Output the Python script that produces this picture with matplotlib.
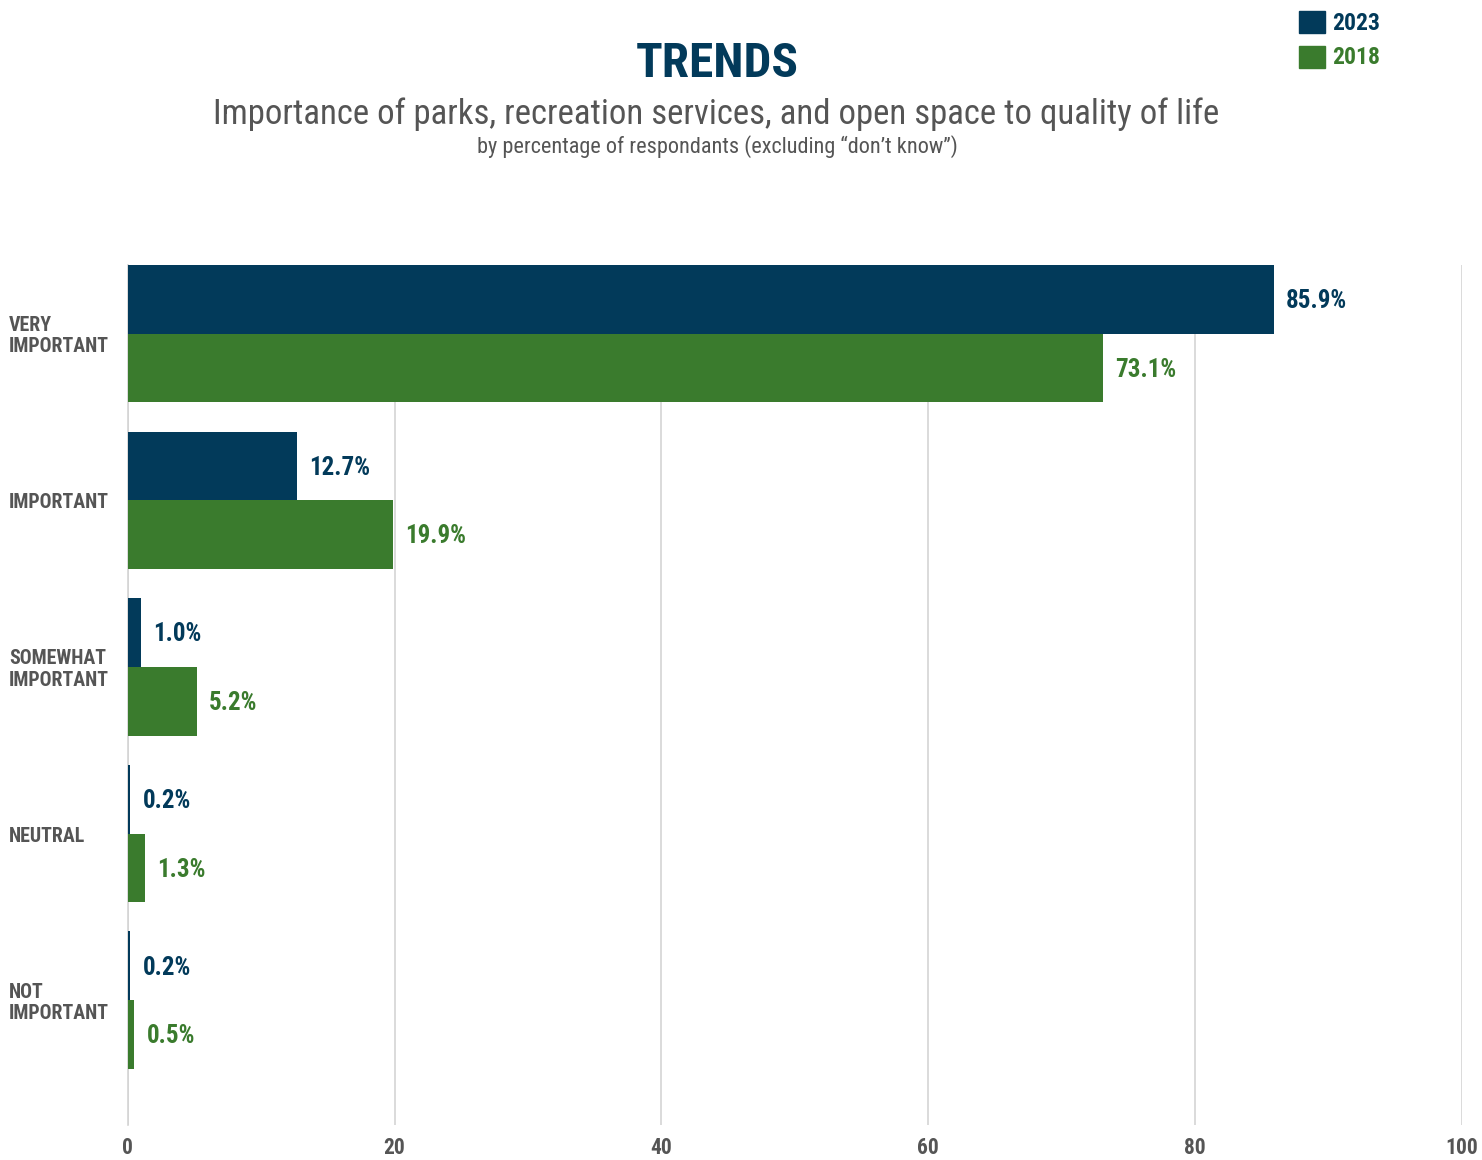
import numpy as np
import matplotlib
matplotlib.use("Agg")
import matplotlib.pyplot as plt

plt.rcParams['font.family'] = ['Roboto Condensed', 'DejaVu Sans']

categories = ['VERY\nIMPORTANT', 'IMPORTANT', 'SOMEWHAT\nIMPORTANT', 'NEUTRAL', 'NOT\nIMPORTANT']
vals_2023 = [85.9, 12.7, 1.0, 0.2, 0.2]
vals_2018 = [73.1, 19.9, 5.2, 1.3, 0.5]
ticks = [0, 20, 40, 60, 80, 100]

navy = '#023a5a'
green = '#3a7b2d'
gray = '#555555'

W, H = 1482, 1160
fig = plt.figure(figsize=(W / 100, H / 100), dpi=100)
ax = fig.add_axes([127.7 / W, 1 - 1125 / H, (1462 - 127.7) / W, (1125 - 265) / H])

y = np.arange(len(categories))
bh = 0.4125
ax.barh(y - bh / 2, vals_2023, height=bh, color=navy, zorder=3)
ax.barh(y + bh / 2, vals_2018, height=bh, color=green, zorder=3)

# value labels next to each bar
for i in range(len(categories)):
    ax.text(vals_2023[i] + 0.9, y[i] - bh / 2 + 0.01, f'{vals_2023[i]:.1f}%', va='center', ha='left',
            color=navy, fontsize=18, fontweight='bold')
    ax.text(vals_2018[i] + 0.9, y[i] + bh / 2 + 0.01, f'{vals_2018[i]:.1f}%', va='center', ha='left',
            color=green, fontsize=18, fontweight='bold')

ax.set_ylim(y[-1] + 0.749, y[0] - bh)
ax.set_xlim(0, 100)
ax.set_xticks(ticks)
ax.set_xticklabels([str(t) for t in ticks], fontsize=15.5, fontweight='bold', color=gray)
ax.set_yticks([])
ax.grid(axis='x', color='#d4d4d4', linewidth=1.2, zorder=0)
for s in ['top', 'right', 'bottom']:
    ax.spines[s].set_visible(False)
ax.spines['left'].set_color('#d4d4d4')
ax.spines['left'].set_linewidth(1.2)
ax.tick_params(axis='x', length=0, pad=9)

# category names, left aligned at the figure edge
for i, c in enumerate(categories):
    yy = 1 - (336 + i * 166.8) / H
    fig.text(9 / W, yy, c, ha='left', va='center', fontsize=14.3, fontweight='bold',
             color=gray, linespacing=1.15)

fig.text(717 / W, 1 - 64 / H, 'TRENDS', ha='center', va='center', fontsize=35.5,
         fontweight='bold', color=navy)
fig.text(716 / W, 1 - 114 / H, 'Importance of parks, recreation services, and open space to quality of life',
         ha='center', va='center', fontsize=25, color=gray)
fig.text(717 / W, 1 - 147 / H, 'by percentage of respondants (excluding \u201cdon\u2019t know\u201d)',
         ha='center', va='center', fontsize=16, color=gray)

# legend
fig.patches.append(plt.Rectangle((1299 / W, 1 - 33 / H), 26 / W, 22 / H, color=navy, transform=fig.transFigure))
fig.patches.append(plt.Rectangle((1299 / W, 1 - 68 / H), 26 / W, 22 / H, color=green, transform=fig.transFigure))
fig.text(1332 / W, 1 - 23 / H, '2023', ha='left', va='center', fontsize=17, fontweight='bold', color=navy)
fig.text(1332 / W, 1 - 58 / H, '2018', ha='left', va='center', fontsize=17, fontweight='bold', color=green)

fig.savefig('out.png', dpi=100)
